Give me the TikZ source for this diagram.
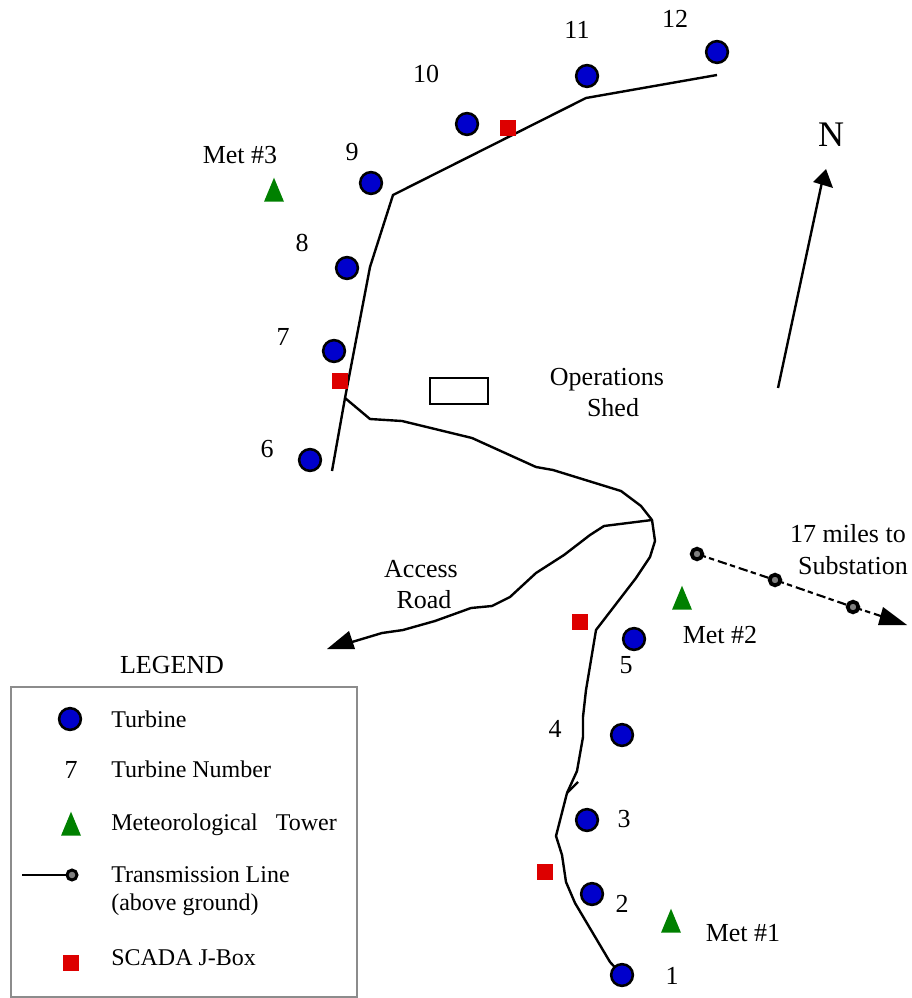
\documentclass[tikz,border=0pt]{standalone}
\usepackage{fontspec}
\setmainfont{Liberation Serif}
\usetikzlibrary{shapes.geometric}
\definecolor{tblue}{RGB}{0,0,204}
\definecolor{jred}{RGB}{221,0,0}
\definecolor{mgreen}{RGB}{0,128,0}
\tikzset{
  turbine/.style={circle,draw=black,fill=tblue,line width=1.9pt,minimum size=16.3pt,inner sep=0pt},
  tower/.style={isosceles triangle,isosceles triangle apex angle=50,shape border rotate=90,fill=mgreen,draw=none,inner sep=0pt,minimum height=18pt,minimum width=15pt,isosceles triangle stretches,anchor=south},
  jbox/.style={rectangle,fill=jred,draw=none,minimum size=11.5pt,inner sep=0pt},
  lab/.style={font=\fontsize{19.5}{22}\selectfont,inner sep=0pt,text=black},
  leg/.style={font=\fontsize{18}{20}\selectfont,inner sep=0pt,anchor=west,text=black},
  wire/.style={line width=1.8pt,line join=round,draw=black},
  pole/.style={circle,draw=black,fill=black!50,line width=2.8pt,minimum size=8pt,inner sep=0pt},
  head/.style={fill=black,draw=none},
  linedash/.style={line width=1.6pt,dash pattern=on 7pt off 2.5pt on 4pt off 3pt}
}
\begin{document}
\begin{tikzpicture}[x=0.75pt,y=-0.75pt]
\useasboundingbox (0,0) rectangle (911,998);
% legend frame
\node[draw=black!45,line width=1.8pt,minimum width=259.5pt,minimum height=232.5pt,inner sep=0pt] (legendbox) at (184,842) {};
\node[lab] (legendtitle) at (172,665) {LEGEND};
% shed
\node[draw=black,line width=1.8pt,minimum width=43.5pt,minimum height=19.5pt,inner sep=0pt] (shed) at (459,391) {};
% endpoints and junctions
\coordinate (west) at (332,471);
\coordinate (tap) at (345,398);
\coordinate (east) at (717,75);
\coordinate (fork) at (652,520);
\coordinate (roadend) at (352,642);
\coordinate (barba) at (578,782);
\coordinate (barbb) at (567,793);
\coordinate (nstart) at (778,388);
\coordinate (nend) at (822,182);
% lines
\draw[wire] (west) -- (tap) -- (370,267) -- (393,195) -- (586,98) -- (east);
\draw[wire] (tap) -- (370,419) -- (402,421) -- (472,438) -- (536,467) -- (553,470) -- (621,491) -- (641,506) -- (fork)
  -- (655,541) -- (650,557) -- (636,578) -- (596,630) -- (586,690) -- (583,717) -- (583,737) -- (577,771) -- (barbb)
  -- (556,836) -- (562,855) -- (566,882) -- (575,903) -- (610,962) -- (622,975);
\draw[wire] (barba) -- (barbb);
\draw[wire] (fork) -- (604,526) -- (590,535) -- (564,555) -- (536,573) -- (510,597) -- (492,606) -- (471,608) -- (435,621) -- (403,630) -- (382,633) -- (roadend);
\fill[head] (327,649) -- (349,631) -- (355,649) -- cycle;
\draw[wire] (nstart) -- (nend);
\fill[head] (826,169) -- (833,188) -- (813,182) -- cycle;
% turbines
\node[turbine] (t1) at (622,975) {};
\node[turbine] (t2) at (592,894) {};
\node[turbine] (t3) at (587,820) {};
\node[turbine] (t4) at (622,735) {};
\node[turbine] (t5) at (634,639) {};
\node[turbine] (t6) at (310,460) {};
\node[turbine] (t7) at (334,351) {};
\node[turbine] (t8) at (347,268) {};
\node[turbine] (t9) at (371,183) {};
\node[turbine] (t10) at (467,124) {};
\node[turbine] (t11) at (587,76) {};
\node[turbine] (t12) at (717,52) {};
% j boxes
\node[jbox] (j1) at (508,128) {};
\node[jbox] (j2) at (340,381) {};
\node[jbox] (j3) at (580,622) {};
\node[jbox] (j4) at (545,872) {};
% towers
\node[tower] (m3) at (274,202) {};
\node[tower] (m2) at (682,610) {};
\node[tower] (m1) at (671,933) {};
% substation line
\coordinate (subend) at (884,617);
\coordinate (p1c) at (697,554);
\coordinate (p2c) at (775,580);
\coordinate (p3c) at (853,607);
\draw[linedash] (p1c) -- (p2c);
\draw[linedash] (p2c) -- (p3c);
\draw[linedash] (p3c) -- (subend);
\node[pole] (p1) at (p1c) {};
\node[pole] (p2) at (p2c) {};
\node[pole] (p3) at (p3c) {};
\fill[head] (907,625) -- (883,607) -- (878,625) -- cycle;
% labels
\node[lab] (n12) at (675,19) {12};
\node[lab] (n11) at (577,30) {11};
\node[lab] (n10) at (426,74) {10};
\node[lab] (n9) at (352,152) {9};
\node[lab] (n8) at (302,243) {8};
\node[lab] (n7) at (283,337) {7};
\node[lab] (n6) at (267,449) {6};
\node[lab] (n5) at (626,665) {5};
\node[lab] (n4) at (555,729) {4};
\node[lab] (n3) at (624,819) {3};
\node[lab] (n2) at (622,904) {2};
\node[lab] (n1) at (672,976) {1};
\node[lab] (met3) at (240,155) {Met \#3};
\node[lab] (met2) at (720,635) {Met \#2};
\node[lab] (met1) at (743,933) {Met \#1};
\node[lab] (ops1) at (607,380) {Operations};
\node[lab] (ops2) at (613,408) {Shed};
\node[lab] (sub1) at (848,534) {17 miles to};
\node[lab] (sub2) at (853,566) {Substation};
\node[lab] (acc1) at (421,569) {Access};
\node[lab] (acc2) at (424,600) {Road};
\node[lab,font=\fontsize{27}{30}\selectfont] (north) at (831,135) {N};
% legend content
\node[turbine] (lt) at (70,719) {};
\node[leg] (lt1) at (111,719) {Turbine};
\node[lab] (ln) at (71,770) {7};
\node[leg] (ln1) at (111,769) {Turbine Number};
\node[tower] (lm) at (71,836) {};
\node[leg] (lm1) at (111,825) {Meteorological\ \ \ Tower};
\coordinate (ll) at (22,875);
\coordinate (lpc) at (72,875);
\draw[wire] (ll) -- (lpc);
\node[pole,line width=2.2pt,minimum size=7.5pt] (lp) at (lpc) {};
\node[leg] (lp1) at (111,875) {Transmission Line};
\node[leg] (lp2) at (111,905) {(above ground)};
\node[jbox] (lj) at (71,963) {};
\node[leg] (lj1) at (111,958) {SCADA J-Box};
\end{tikzpicture}
\end{document}
